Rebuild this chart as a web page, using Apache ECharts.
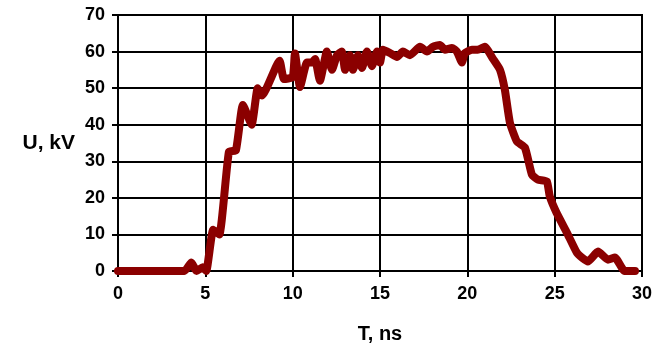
<!DOCTYPE html>
<html>
<head>
<meta charset="utf-8">
<script src="https://cdn.jsdelivr.net/npm/echarts@6/dist/echarts.min.js"></script>
<style>
  html, body { margin: 0; padding: 0; background: #fff; }
  #chart { width: 663px; height: 349px; }
</style>
</head>
<body>
<div id="chart"></div>
<script>
// Pulse voltage waveform: time (ns) and voltage (kV)
const timeNs = [
  0, 3.8, 4.2, 4.5, 4.85, 5.05, 5.45, 5.8, 6.35, 6.75, 7.15, 7.65, 8.0, 8.25,
  9.25, 9.5, 10.0, 10.13, 10.42, 10.82, 11.1, 11.28, 11.56, 11.96, 12.25, 12.54,
  12.82, 13.0, 13.28, 13.45, 13.74, 13.97, 14.25, 14.54, 14.83, 15.0, 15.17,
  15.57, 15.97, 16.31, 16.71, 17.29, 17.69, 18.03, 18.43, 18.72, 19.12, 19.4,
  19.69, 19.86, 20.26, 20.6, 21.0, 21.47, 21.87, 22.15, 22.44, 22.84, 23.3,
  23.7, 24.04, 24.55, 24.72, 25.1, 25.7, 26.27, 26.6, 26.9, 27.48, 28.05,
  28.45, 29.0, 29.6
];
const voltageKv = [
  0, 0, 2.3, 0, 1, 0, 11.3, 10, 32.6, 33, 45.4, 40, 50, 48,
  57.5, 52.5, 53, 59.5, 50.3, 57, 57, 58, 52, 60, 55, 59,
  60, 55, 59, 55, 59, 55.5, 60, 56, 60, 57, 60.5,
  59.6, 58.5, 60, 59, 61.3, 60, 61.3, 61.8, 60.5, 61, 60,
  57, 59.6, 60.5, 60.5, 61.3, 58, 55, 49.5, 40.5, 35.4, 33.7,
  26.3, 25, 24.5, 20.4, 16, 10.5, 5, 3.5, 2.6, 5.3, 3.1,
  3.7, 0, 0
];
const xTicks = { min: 0, max: 30, step: 5 };
const yTicks = { min: 0, max: 70, step: 10 };

const points = timeNs.map((t, i) => [t, voltageKv[i]]);

const labelFont = {
  fontFamily: 'Liberation Sans, Arial, sans-serif',
  fontWeight: 'bold',
  fontSize: 18,
  color: '#000'
};

const chart = echarts.init(document.getElementById('chart'), null, { renderer: 'canvas' });
chart.setOption({
  animation: false,
  backgroundColor: '#fff',
  grid: { left: 118, right: 21, top: 15, bottom: 78, show: true, borderColor: '#000', borderWidth: 2 },
  xAxis: {
    type: 'value',
    min: xTicks.min, max: xTicks.max, interval: xTicks.step,
    name: 'T, ns',
    nameLocation: 'middle',
    nameGap: 53,
    nameTextStyle: Object.assign({}, labelFont, { fontSize: 20 }),
    axisLine: { show: true, lineStyle: { color: '#000', width: 2 } },
    axisTick: { show: true, length: 6, lineStyle: { color: '#000', width: 2 } },
    axisLabel: Object.assign({ margin: 14 }, labelFont),
    splitLine: { show: true, lineStyle: { color: '#000', width: 2 } }
  },
  yAxis: {
    type: 'value',
    min: yTicks.min, max: yTicks.max, interval: yTicks.step,
    name: 'U, kV',
    nameLocation: 'middle',
    nameRotate: 0,
    nameGap: 43,
    nameTextStyle: Object.assign({}, labelFont, { fontSize: 21 }),
    axisLine: { show: true, lineStyle: { color: '#000', width: 2 } },
    axisTick: { show: true, length: 6, lineStyle: { color: '#000', width: 2 } },
    axisLabel: Object.assign({ margin: 13 }, labelFont),
    splitLine: { show: true, lineStyle: { color: '#000', width: 2 } }
  },
  series: [{
    type: 'line',
    data: points,
    showSymbol: false,
    smooth: 0.15,
    lineStyle: { color: '#8b0000', width: 8, cap: 'round', join: 'round' }
  }]
});
</script>
</body>
</html>
